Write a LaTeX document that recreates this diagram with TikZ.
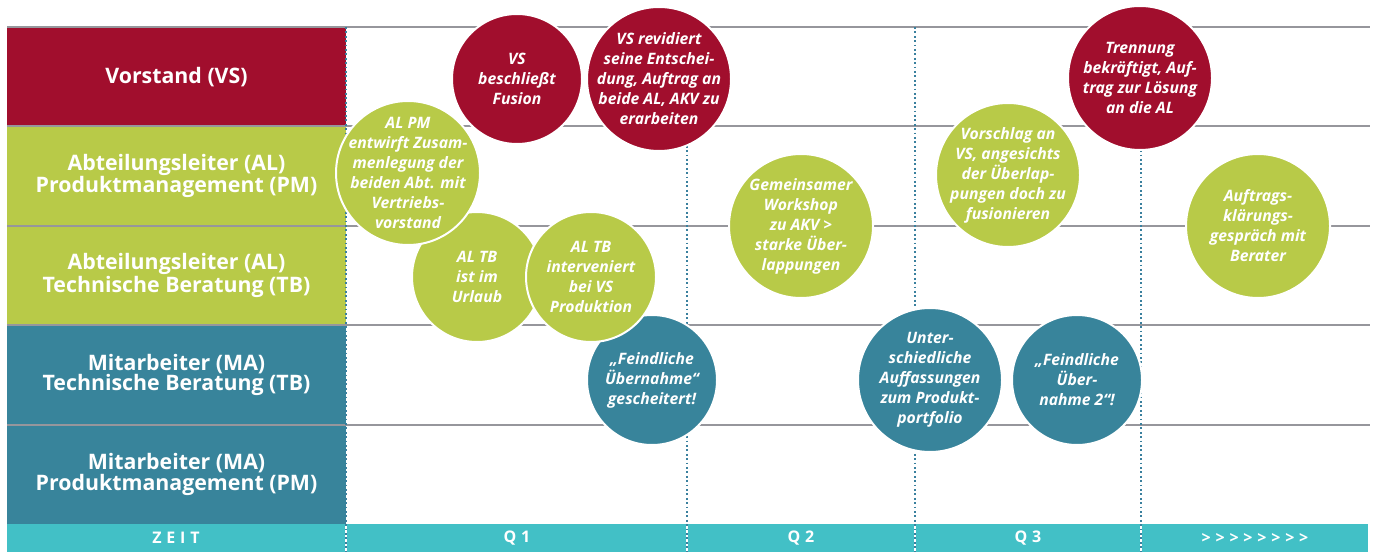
\documentclass[tikz,border=0pt]{standalone}
\usepackage{fontspec}
\setmainfont{Open Sans}
\newfontfamily\barfont{Open Sans}[LetterSpace=30]
\usetikzlibrary{positioning}

\definecolor{vsred}{RGB}{161,14,45}
\definecolor{algreen}{RGB}{184,202,72}
\definecolor{mateal}{RGB}{56,132,155}
\definecolor{zeitcyan}{RGB}{66,192,198}
\definecolor{gridgray}{RGB}{150,150,156}
\definecolor{qline}{RGB}{58,128,158}

\begin{document}
\begin{tikzpicture}[
x=0.75pt, y=-0.75pt,
lane/.style={
minimum width=254.25pt,
minimum height=74.55pt,
inner sep=0pt,
outer sep=0pt,
align=center,
text=white,
font=\fontsize{16}{15.5}\selectfont\bfseries
},
event/.style={
circle,
draw=white,
line width=1.5pt,
inner sep=0pt
},
every label/.style={
align=center,
text=white,
inner sep=0pt,
font=\fontsize{11.8}{15}\selectfont\bfseries\itshape
},
big/.style={minimum size=108pt},
small/.style={minimum size=97.5pt},
grid/.style={gridgray, line width=1.5pt},
quarter/.style={qline, line width=1.3pt, dash pattern=on 1.3pt off 2pt},
barlabel/.style={text=white, font=\barfont\fontsize{12}{13}\selectfont\bfseries}
]
\useasboundingbox (0,0) rectangle (1373,552);

% ------------------------
% Lanes (left column)
% ------------------------
\node[lane, fill=vsred, anchor=north west] (vs) at (7,27) {Vorstand (VS)};
\node[lane, fill=algreen, below=0pt of vs] (alpm)
{Abteilungsleiter (AL)\\Produktmanagement (PM)};
\node[lane, fill=algreen, below=0pt of alpm] (altb)
{Abteilungsleiter (AL)\\Technische Beratung (TB)};
\node[lane, fill=mateal, below=0pt of altb] (matb)
{Mitarbeiter (MA)\\Technische Beratung (TB)};
\node[lane, fill=mateal, below=0pt of matb] (mapm)
{Mitarbeiter (MA)\\Produktmanagement (PM)};

% time bar
\fill[zeitcyan] (mapm.south west) rectangle (1368,552);

% lane separators
\foreach \n in {vs,alpm,altb,matb,mapm}
\draw[grid] (\n.north west) -- ++(1363,0);

% quarter borders
\foreach \x in {346,687,915,1141} {
\draw[white, line width=1pt] (\x,524) -- (\x,552);
\draw[quarter] (\x,27) -- (\x,552);
}

% ------------------------
% Time bar labels
% ------------------------
\node[barlabel] (zeit) at (176,538) {ZEIT};
\node[barlabel] (q1) at (517,538) {Q1};
\node[barlabel] (q2) at (801,538) {Q2};
\node[barlabel] (q3) at (1028,538) {Q3};
\node[barlabel] (later) at (1255,538) {>>>>>>>>};

% ------------------------
% Events Q1
% ------------------------
\node[event, small, fill=vsred,
label={center:{VS\\beschließt\\Fusion}}] (fusion) at (517,79) {};
\node[event, big, fill=vsred,
label={center:{VS revidiert\\seine Entschei-\\dung, Auftrag an\\beide AL, AKV zu\\erarbeiten}}]
(revision) at (659,79) {};
\node[event, small, fill=algreen,
label={center:{AL TB\\ist im\\Urlaub}}] (urlaub) at (477,277) {};
\node[event, big, fill=algreen,
label={center:{AL PM\\entwirft Zusam-\\menlegung der\\beiden Abt. mit\\Vertriebs-\\vorstand}}]
(entwurf) at (408,173) {};
\node[event, small, fill=mateal,
label={center:{„Feindliche\\Übernahme“\\gescheitert!}}] (scheitern) at (652,380) {};
\node[event, small, fill=algreen,
label={center:{AL TB\\interveniert\\bei VS\\Produktion}}] (intervention) at (591,277) {};

% ------------------------
% Events Q2 and Q3
% ------------------------
\node[event, big, fill=algreen,
label={center:{Gemeinsamer\\Workshop\\zu AKV >\\starke Über-\\lappungen}}]
(workshop) at (801,226) {};
\node[event, big, fill=mateal,
label={center:{Unter-\\schiedliche\\Auffassungen\\zum Produkt-\\portfolio}}]
(auffassung) at (930,380) {};
\node[event, small, fill=mateal,
label={center:{„Feindliche\\Über-\\nahme 2“!}}] (uebernahme) at (1077,380) {};
\node[event, big, fill=algreen,
label={center:{Vorschlag an\\VS, angesichts\\der Überlap-\\pungen doch zu\\fusionieren}}]
(vorschlag) at (1008,175) {};
\node[event, big, fill=vsred,
label={center:{Trennung\\bekräftigt, Auf-\\trag zur Lösung\\an die AL}}]
(trennung) at (1140,78) {};

% ------------------------
% After Q3
% ------------------------
\node[event, big, fill=algreen,
label={center:{Auftrags-\\klärungs-\\gespräch mit\\Berater}}]
(klaerung) at (1258,226) {};

\end{tikzpicture}
\end{document}
